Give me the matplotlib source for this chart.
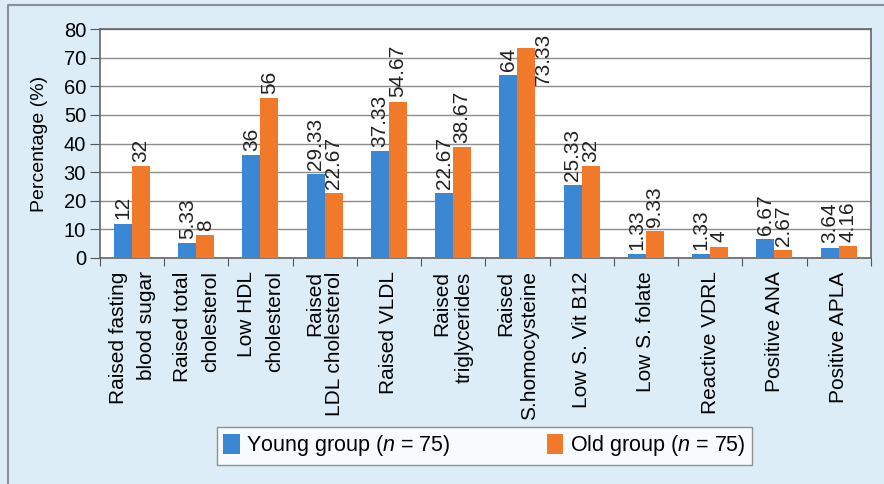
import matplotlib.pyplot as plt
from matplotlib.lines import Line2D
from matplotlib.transforms import blended_transform_factory
import numpy as np

plt.rcParams['font.family'] = ['Liberation Sans', 'DejaVu Sans']
plt.rcParams['mathtext.fontset'] = 'custom'
plt.rcParams['mathtext.it'] = 'Liberation Sans:italic'
plt.rcParams['mathtext.rm'] = 'Liberation Sans'

categories = [
    "Raised fasting\nblood sugar", "Raised total\ncholesterol", "Low HDL\ncholesterol",
    "Raised\nLDL cholesterol", "Raised VLDL", "Raised\ntriglycerides",
    "Raised\nS.homocysteine", "Low S. Vit B12", "Low S. folate",
    "Reactive VDRL", "Positive ANA", "Positive APLA",
]
young = [12, 5.33, 36, 29.33, 37.33, 22.67, 64, 25.33, 1.33, 1.33, 6.67, 3.64]
old = [32, 8, 56, 22.67, 54.67, 38.67, 73.33, 32, 9.33, 4, 2.67, 4.16]
young_labels = ["12", "5.33", "36", "29.33", "37.33", "22.67", "64", "25.33", "1.33", "1.33", "6.67", "3.64"]
old_labels = ["32", "8", "56", "22.67", "54.67", "38.67", "73.33", "32", "9.33", "4", "2.67", "4.16"]
# the first three labels are spread wider than the others
label_spacing = [1.6, 1.6, 1.6, 1.1, 1.0, 1.25, 1.3, 1.0, 1.0, 1.0, 1.0, 1.0]

blue = '#3b87d3'
orange = '#f07a2a'

fig = plt.figure(figsize=(8.84, 4.84), dpi=100, facecolor='#dcedf7')
# thin frame on the left and top edges
fig.lines.append(Line2D([0.009, 0.009, 1.0], [0.0, 0.990, 0.990], transform=fig.transFigure,
                        color='#8a9096', lw=1.5))
ax = fig.add_axes([0.113, 0.467, 0.872, 0.473])
ax.set_facecolor('white')

x = np.arange(len(categories))
w = 0.28
ax.bar(x - w / 2, young, w, color=blue, zorder=3, label='Young group ($\\it{n}$ = 75)')
ax.bar(x + w / 2, old, w, color=orange, zorder=3, label='Old group ($\\it{n}$ = 75)')

# value labels above bars
for i in range(len(x)):
    ax.annotate(young_labels[i], (x[i] - w / 2, young[i]), xytext=(0, 3),
                textcoords='offset points', rotation=90, ha='center', va='bottom',
                fontsize=15, color='#222222')
    if old[i] > 70:
        ax.text(x[i] + w / 2 + 0.27, 78.6, old_labels[i], rotation=90,
                ha='center', va='top', fontsize=15, color='#222222')
    else:
        ax.annotate(old_labels[i], (x[i] + w / 2, old[i]), xytext=(0, 3),
                    textcoords='offset points', rotation=90, ha='center', va='bottom',
                    fontsize=15, color='#222222')

ax.set_xlim(-0.5, len(categories) - 0.5)
ax.set_ylim(0, 80)
ax.set_yticks(range(0, 81, 10))
ax.set_xticks(np.arange(-0.5, len(categories), 1.0))
ax.set_xticklabels([])
ax.tick_params(axis='y', labelsize=14.5, length=7, color='#555555', pad=3)
ax.tick_params(axis='x', length=6, color='#555555')
ax.yaxis.grid(True, color='#8c8c8c', lw=1)
ax.set_axisbelow(True)
for s in ax.spines.values():
    s.set_color('#666666')
    s.set_linewidth(1.2)
ax.set_ylabel('Percentage (%)', fontsize=14, labelpad=11)

trans = blended_transform_factory(ax.transData, ax.transAxes)
for i, c in enumerate(categories):
    ax.text(i, -0.058, c, rotation=90, ha='center', va='top', multialignment='right',
            fontsize=15, transform=trans, linespacing=label_spacing[i])

leg = fig.legend(loc='center', bbox_to_anchor=(0.548, 0.079), ncol=2,
                 fontsize=15.5, frameon=True, fancybox=False, edgecolor='#777777',
                 handlelength=0.75, handleheight=1.1, handletextpad=0.3,
                 columnspacing=4.5, borderpad=0.3, borderaxespad=0)
leg.get_frame().set_linewidth(1.0)

fig.savefig('out.png', dpi=100, facecolor=fig.get_facecolor())
